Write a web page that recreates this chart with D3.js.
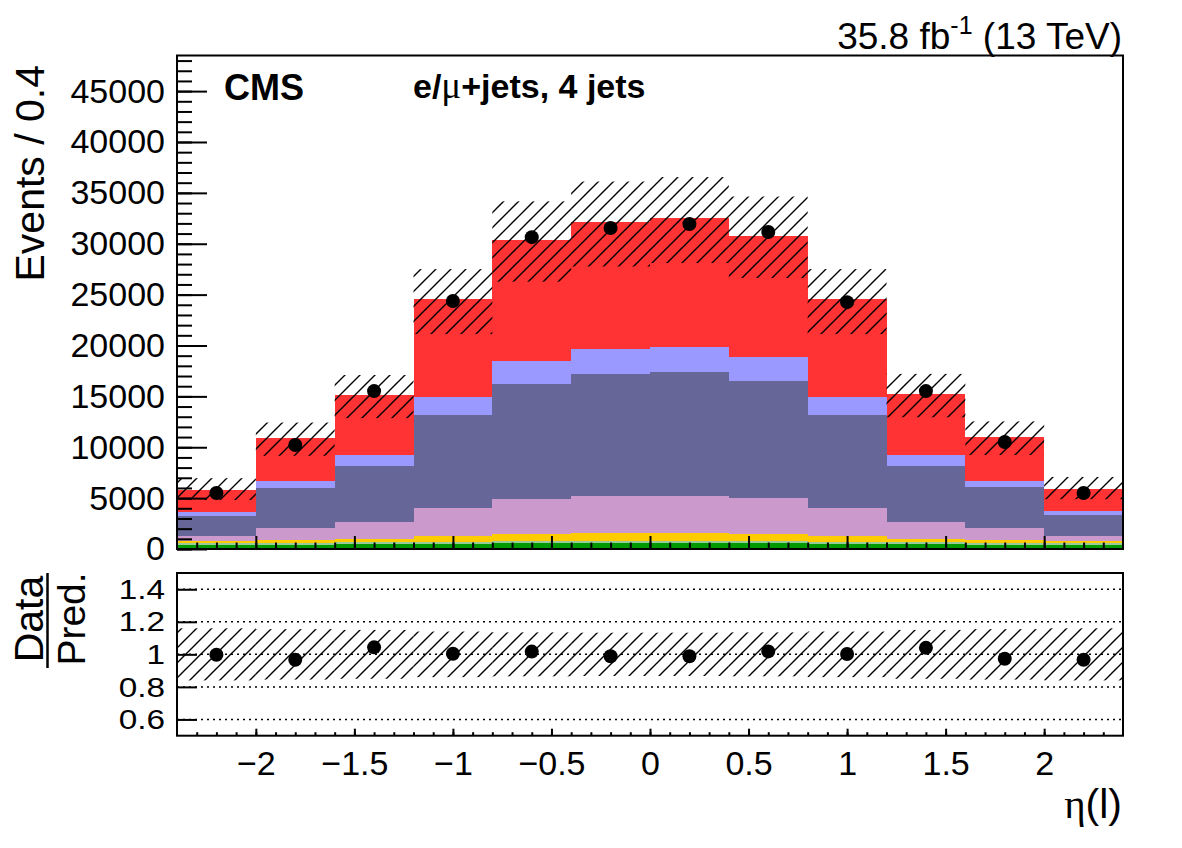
<!DOCTYPE html>
<html>
<head>
<meta charset="utf-8">
<script src="https://cdn.jsdelivr.net/npm/d3@7"></script>
<style>
body { margin: 0; background: #fff; }
text { font-family: "Liberation Sans", Arial, sans-serif; fill: #000; }
</style>
</head>
<body>
<svg id="chart" width="1182" height="848"></svg>
<script>
// bins in eta(l), width 0.4
var binEdges = [-2.4, -2.0, -1.6, -1.2, -0.8, -0.4, 0, 0.4, 0.8, 1.2, 1.6, 2.0, 2.4];

// stacked processes, bottom to top
var procGreen  = [380, 420, 460, 520, 550, 560, 560, 550, 520, 460, 420, 380];
var procGray   = [170, 180, 190, 200, 200, 200, 200, 200, 200, 190, 180, 170];
var procYellow = [240, 280, 330, 560, 680, 810, 810, 680, 560, 330, 280, 240];
var procPink   = [490, 1150, 1640, 2720, 3490, 3640, 3670, 3590, 2720, 1640, 1150, 490];
var procSlate  = [1990, 3960, 5530, 9170, 11300, 11980, 12150, 11490, 9170, 5530, 4030, 2090];
var procBlue   = [390, 690, 1090, 1760, 2260, 2460, 2460, 2360, 1760, 1090, 620, 390];
var procRed    = [2140, 4220, 5890, 9630, 11890, 12450, 12640, 11920, 9630, 5990, 4320, 2140];

var dataCounts = [5500, 10220, 15520, 24370, 30650, 31540, 31930, 31150, 24260, 15520, 10510, 5500];
var dataRatio  = [0.998, 0.967, 1.043, 1.004, 1.017, 0.988, 0.988, 1.018, 1.002, 1.040, 0.973, 0.967];

// relative uncertainty of the prediction
var uncUp    = [0.20, 0.14, 0.13, 0.12, 0.125, 0.125, 0.125, 0.125, 0.12, 0.13, 0.14, 0.20];
var uncDown  = [0.17, 0.16, 0.15, 0.14, 0.135, 0.135, 0.135, 0.135, 0.14, 0.15, 0.16, 0.17];
var ratioUnc = [0.16, 0.155, 0.15, 0.14, 0.135, 0.133, 0.133, 0.135, 0.14, 0.15, 0.155, 0.16];

var topTicks = [0, 5000, 10000, 15000, 20000, 25000, 30000, 35000, 40000, 45000];
var ratioTicks = [0.6, 0.8, 1.0, 1.2, 1.4];
var xTicks = [-2, -1.5, -1, -0.5, 0, 0.5, 1, 1.5, 2];

var keys = ['green', 'gray', 'yellow', 'pink', 'slate', 'blue', 'red'];
var colors = ['#009900', '#99cc99', '#ffcc00', '#cc99cc', '#666699', '#9999ff', '#ff3333'];
var series = [procGreen, procGray, procYellow, procPink, procSlate, procBlue, procRed];

var table = [];
for (let i = 0; i < binEdges.length - 1; i++) {
  var row = { lo: binEdges[i], hi: binEdges[i + 1], data: dataCounts[i], ratio: dataRatio[i] };
  keys.forEach(function (k, j) { row[k] = series[j][i]; });
  row.total = d3.sum(keys, function (k) { return row[k]; });
  row.up = uncUp[i];
  row.down = uncDown[i];
  row.runc = ratioUnc[i];
  table.push(row);
}

var svg = d3.select('#chart');
svg.append('rect').attr('width', 1182).attr('height', 848).attr('fill', '#fff');

var defs = svg.append('defs');
defs.append('pattern')
  .attr('id', 'hatch')
  .attr('patternUnits', 'userSpaceOnUse')
  .attr('width', 15).attr('height', 15)
  .append('path')
  .attr('d', 'M0,15 L15,0 M-4,4 L4,-4 M11,19 L19,11')
  .attr('stroke', '#000')
  .attr('stroke-width', 1.4);

var left = 177, right = 1123;
var topY0 = 55.5, topY1 = 549;
var ratY0 = 573, ratY1 = 735.7;
var tickFont = 34;

var x = d3.scaleLinear().domain([-2.4, 2.4]).range([left, right]);
var yTop = d3.scaleLinear().domain([0, 48500]).range([topY1, topY0]);
var yRat = d3.scaleLinear().domain([0.5, 1.5]).range([ratY1, ratY0]);

// ---- top panel ----
var stackGen = d3.stack().keys(keys);
var stacked = stackGen(table);

svg.append('g')
  .selectAll('g.layer')
  .data(stacked)
  .join('g')
  .attr('class', 'layer')
  .attr('fill', function (d, i) { return colors[i]; })
  .selectAll('rect')
  .data(function (d) { return d; })
  .join('rect')
  .attr('shape-rendering', 'crispEdges')
  .attr('x', function (d) { return x(d.data.lo); })
  .attr('width', function (d) { return x(d.data.hi) - x(d.data.lo); })
  .attr('y', function (d) { return yTop(d[1]); })
  .attr('height', function (d) { return yTop(d[0]) - yTop(d[1]); });

svg.append('g')
  .selectAll('rect')
  .data(table)
  .join('rect')
  .attr('fill', 'url(#hatch)')
  .attr('x', function (d) { return x(d.lo); })
  .attr('width', function (d) { return x(d.hi) - x(d.lo); })
  .attr('y', function (d) { return yTop(d.total * (1 + d.up)); })
  .attr('height', function (d) { return yTop(d.total * (1 - d.down)) - yTop(d.total * (1 + d.up)); });

svg.append('g')
  .selectAll('line')
  .data(table)
  .join('line')
  .attr('x1', function (d) { return x((d.lo + d.hi) / 2); })
  .attr('x2', function (d) { return x((d.lo + d.hi) / 2); })
  .attr('y1', function (d) { return yTop(d.data + Math.sqrt(d.data)); })
  .attr('y2', function (d) { return yTop(d.data - Math.sqrt(d.data)); })
  .attr('stroke', '#000').attr('stroke-width', 1.5);

svg.append('g')
  .selectAll('circle')
  .data(table)
  .join('circle')
  .attr('cx', function (d) { return x((d.lo + d.hi) / 2); })
  .attr('cy', function (d) { return yTop(d.data); })
  .attr('r', 7)
  .attr('fill', '#000');

// axes top panel
var gy = svg.append('g').attr('transform', 'translate(' + left + ',0)')
  .call(d3.axisLeft(yTop).tickValues(topTicks).tickSize(-30).tickPadding(12).tickFormat(d3.format('d')));
gy.select('.domain').remove();
gy.selectAll('text').attr('font-size', tickFont).attr('font-family', '"Liberation Sans", Arial, sans-serif');
gy.selectAll('line').attr('stroke-width', 2);

var gyMinor = svg.append('g').attr('transform', 'translate(' + left + ',0)')
  .call(d3.axisLeft(yTop).tickValues(d3.range(0, 48001, 1000)).tickSize(-15).tickFormat(''));
gyMinor.select('.domain').remove();
gyMinor.selectAll('line').attr('stroke-width', 2);

var gxTop = svg.append('g').attr('transform', 'translate(0,' + topY1 + ')')
  .call(d3.axisBottom(x).tickValues(xTicks).tickSize(-13).tickFormat(''));
gxTop.select('.domain').remove();
gxTop.selectAll('line').attr('stroke-width', 2);
var gxTopMinor = svg.append('g').attr('transform', 'translate(0,' + topY1 + ')')
  .call(d3.axisBottom(x).tickValues(d3.range(-23, 24).map(function (v) { return v / 10; })).tickSize(-6.5).tickFormat(''));
gxTopMinor.select('.domain').remove();
gxTopMinor.selectAll('line').attr('stroke-width', 2);

svg.append('rect')
  .attr('x', left).attr('y', topY0)
  .attr('width', right - left).attr('height', topY1 - topY0)
  .attr('fill', 'none').attr('stroke', '#000').attr('stroke-width', 2);

// ---- ratio panel ----
svg.append('g')
  .selectAll('rect')
  .data(table)
  .join('rect')
  .attr('fill', 'url(#hatch)')
  .attr('x', function (d) { return x(d.lo); })
  .attr('width', function (d) { return x(d.hi) - x(d.lo); })
  .attr('y', function (d) { return yRat(1 + d.runc); })
  .attr('height', function (d) { return yRat(1 - d.runc) - yRat(1 + d.runc); });

svg.append('g')
  .selectAll('line')
  .data(ratioTicks)
  .join('line')
  .attr('x1', left).attr('x2', right)
  .attr('y1', function (d) { return yRat(d); })
  .attr('y2', function (d) { return yRat(d); })
  .attr('stroke', '#000').attr('stroke-width', 1.5)
  .attr('stroke-dasharray', '2,4');

svg.append('g')
  .selectAll('circle')
  .data(table)
  .join('circle')
  .attr('cx', function (d) { return x((d.lo + d.hi) / 2); })
  .attr('cy', function (d) { return yRat(d.ratio); })
  .attr('r', 7)
  .attr('fill', '#000');

// ratio labels are packed tight: slightly shorter glyphs, stretched sideways
var rStretch = 1.17;
var gyR = svg.append('g').attr('transform', 'translate(' + left + ',0)')
  .call(d3.axisLeft(yRat).tickValues(ratioTicks).tickSize(-20).tickPadding(12).tickFormat(d3.format('~g')));
gyR.select('.domain').remove();
gyR.selectAll('text')
  .attr('font-size', 28.5)
  .attr('font-family', '"Liberation Sans", Arial, sans-serif')
  .attr('x', -12 / rStretch)
  .attr('transform', 'scale(' + rStretch + ',1)');
gyR.selectAll('line').attr('stroke-width', 2);

var gxR = svg.append('g').attr('transform', 'translate(0,' + ratY1 + ')')
  .call(d3.axisBottom(x).tickValues(xTicks).tickSize(-7).tickPadding(15).tickFormat(d3.format('~g')));
gxR.select('.domain').remove();
gxR.selectAll('text').attr('font-size', tickFont).attr('font-family', '"Liberation Sans", Arial, sans-serif');
gxR.selectAll('line').attr('stroke-width', 2);
var gxRMinor = svg.append('g').attr('transform', 'translate(0,' + ratY1 + ')')
  .call(d3.axisBottom(x).tickValues(d3.range(-23, 24).map(function (v) { return v / 10; })).tickSize(-3.5).tickFormat(''));
gxRMinor.select('.domain').remove();
gxRMinor.selectAll('line').attr('stroke-width', 2);

svg.append('rect')
  .attr('x', left).attr('y', ratY0)
  .attr('width', right - left).attr('height', ratY1 - ratY0)
  .attr('fill', 'none').attr('stroke', '#000').attr('stroke-width', 2);

// ---- labels ----
svg.append('text')
  .attr('transform', 'translate(44,65) rotate(-90)')
  .attr('text-anchor', 'end')
  .attr('font-size', 41)
  .text('Events / 0.4');

svg.append('text')
  .attr('transform', 'translate(43,619) rotate(-90)')
  .attr('text-anchor', 'middle')
  .attr('font-size', 41)
  .text('Data');
svg.append('text')
  .attr('transform', 'translate(85,619) rotate(-90)')
  .attr('text-anchor', 'middle')
  .attr('font-size', 39)
  .text('Pred.');
svg.append('line')
  .attr('x1', 47.5).attr('x2', 47.5).attr('y1', 573).attr('y2', 668)
  .attr('stroke', '#000').attr('stroke-width', 2.5);

var xt = svg.append('text')
  .attr('x', 1122).attr('y', 818)
  .attr('text-anchor', 'end')
  .attr('font-size', 41);
xt.append('tspan').attr('font-family', '"Liberation Serif", serif').text('η');
xt.append('tspan').text('(l)');

svg.append('text')
  .attr('x', 224).attr('y', 100)
  .attr('font-size', 36).attr('font-weight', 'bold')
  .text('CMS');

var ch = svg.append('text')
  .attr('x', 413).attr('y', 98)
  .attr('font-size', 34).attr('font-weight', 'bold');
ch.append('tspan').text('e/');
ch.append('tspan').attr('font-family', '"Liberation Serif", serif').attr('font-weight', 'normal').attr('font-size', 37).text('μ');
ch.append('tspan').text('+jets, 4 jets');

var lumi = svg.append('text')
  .attr('x', 1122).attr('y', 49)
  .attr('text-anchor', 'end')
  .attr('font-size', 37);
lumi.append('tspan').text('35.8 fb');
lumi.append('tspan').attr('font-size', 25).attr('dy', -15).text('-1');
lumi.append('tspan').attr('dy', 15).text(' (13 TeV)');
</script>
</body>
</html>
